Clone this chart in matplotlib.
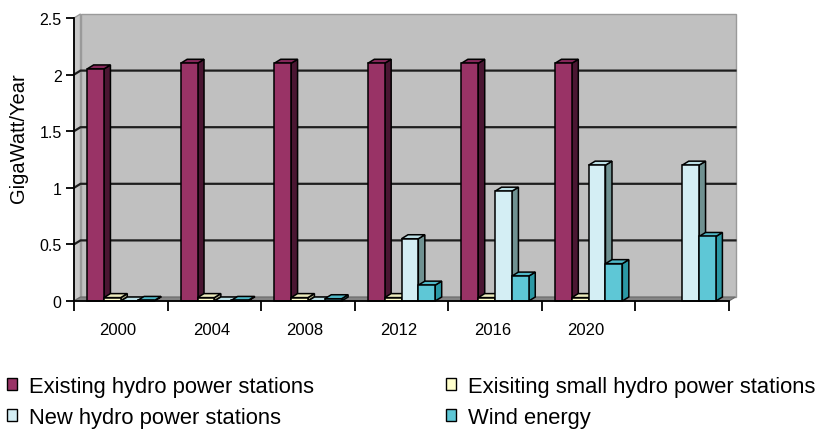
import numpy as np
import matplotlib
matplotlib.use("Agg")
import matplotlib.pyplot as plt
from matplotlib.patches import Polygon, Patch

plt.rcParams['font.family'] = ['Liberation Sans', 'DejaVu Sans']

# ---- data -------------------------------------------------------------
years = ["2000", "2004", "2008", "2012", "2016", "2020", ""]
existing_hydro = [2.05, 2.10, 2.10, 2.10, 2.10, 2.10, np.nan]
small_hydro = [0.03, 0.03, 0.03, 0.03, 0.03, 0.03, np.nan]
new_hydro = [0.0, 0.0, 0.0, 0.55, 0.97, 1.20, 1.20]
wind_energy = [0.005, 0.005, 0.02, 0.14, 0.22, 0.33, 0.57]

series_names = ["Existing hydro power stations",
                "Exisiting small hydro power stations",
                "New hydro power stations",
                "Wind energy"]
series_values = [existing_hydro, small_hydro, new_hydro, wind_energy]

# front / side / top shades for the pseudo-3D columns
shades = [("#993366", "#4a1632", "#86285a"),
          ("#ffffcc", "#a8a884", "#ecebbd"),
          ("#d4eef4", "#6f9191", "#bcdfe5"),
          ("#5ec7d6", "#2b98a4", "#4fb8c7")]

# ---- figure -----------------------------------------------------------
W, H = 822, 431
fig = plt.figure(figsize=(W / 100, H / 100), dpi=100)
ax_l, ax_r, ax_b, ax_t = 74, 729, 302, 19
ax = fig.add_axes([ax_l / W, 1 - ax_b / H, (ax_r - ax_l) / W, (ax_b - ax_t) / H])

n = len(years)
ymax = 2.5
ax.set_xlim(0, n)
ax.set_ylim(0, ymax)

# depth of the 3D box in data units
px_x = n / (ax_r - ax_l)
px_y = ymax / (ax_b - ax_t)
dx, dy = 6.5 * px_x, 4.0 * px_y

# walls and floor
back = Polygon([(dx, dy), (n + dx, dy), (n + dx, ymax + dy), (dx, ymax + dy)],
               closed=True, facecolor="#c0c0c0", edgecolor="#9a9a9a",
               lw=1.0, clip_on=False, zorder=0)
left = Polygon([(0, 0), (dx, dy), (dx, ymax + dy), (0, ymax)],
               closed=True, facecolor="#c8c8c8", edgecolor="#9a9a9a",
               lw=1.0, clip_on=False, zorder=0.5)
floor = Polygon([(0, 0), (n, 0), (n + dx, dy), (dx, dy)],
                closed=True, facecolor="#858585", edgecolor="#6a6a6a",
                lw=0.8, clip_on=False, zorder=0.6)
for p in (back, left, floor):
    ax.add_patch(p)

# gridlines on left and back walls
for v in [0.5, 1.0, 1.5, 2.0]:
    ax.plot([0, dx, n + dx], [v, v + dy, v + dy], color="#1e1e1e",
            lw=1.6, clip_on=False, zorder=1)

# columns
bar_w = 0.18
offset = 0.14
z = 2
for i in range(n):
    for k, vals in enumerate(series_values):
        v = vals[i]
        if np.isnan(v):
            continue
        x0 = i + offset + k * bar_w
        x1 = x0 + bar_w
        front_c, side_c, top_c = shades[k]
        kw = dict(closed=True, edgecolor="#000000", lw=1.1,
                  clip_on=False, joinstyle="miter")
        side = Polygon([(x1, 0), (x1 + dx, dy), (x1 + dx, v + dy), (x1, v)],
                       facecolor=side_c, zorder=z, **kw)
        top = Polygon([(x0, v), (x1, v), (x1 + dx, v + dy), (x0 + dx, v + dy)],
                      facecolor=top_c, zorder=z, **kw)
        ax.add_patch(side)
        ax.add_patch(top)
        ax.bar(x0, v, width=bar_w, align="edge", color=front_c,
               edgecolor="#000000", linewidth=1.1, zorder=z + 0.5,
               clip_on=False)
        z += 1

# axes styling
ax.set_facecolor("none")
for s in ("top", "right"):
    ax.spines[s].set_visible(False)
for s in ("left", "bottom"):
    ax.spines[s].set_color("#000000")
    ax.spines[s].set_linewidth(1.3)
    ax.spines[s].set_zorder(100)

ax.set_yticks([0, 0.5, 1, 1.5, 2, 2.5])
ax.set_yticklabels(["0", "0.5", "1", "1.5", "2", "2.5"])
ax.tick_params(axis="y", direction="out", length=6, width=1.3,
               labelsize=11.5, pad=3, colors="#000000")

ax.set_xticks(np.arange(0, n + 1))
ax.set_xticklabels([])
ax.tick_params(axis="x", which="major", direction="out", length=7, width=1.3)
ax.set_xticks(np.arange(n) + 0.47, minor=True)
ax.set_xticklabels(years, minor=True)
ax.tick_params(axis="x", which="minor", length=0, labelsize=12, pad=15)

ax.set_ylabel("GigaWatt/Year", fontsize=14.5)
ax.yaxis.set_label_coords(-0.070, 0.58)

# legend in two columns below the plot
handles = [Patch(facecolor=shades[k][0], edgecolor="#000000", linewidth=1.0,
                 label=series_names[k]) for k in range(4)]
leg_kw = dict(frameon=False, fontsize=15.8, handlelength=0.45,
              handleheight=0.45, handletextpad=0.55, labelspacing=0.45,
              borderpad=0, borderaxespad=0, loc="upper left")
leg1 = fig.legend(handles=[handles[0], handles[2]],
                  bbox_to_anchor=(7 / W, 1 - 377 / H), **leg_kw)
leg2 = fig.legend(handles=[handles[1], handles[3]],
                  bbox_to_anchor=(446 / W, 1 - 377 / H), **leg_kw)

fig.savefig("out.png", dpi=100)
